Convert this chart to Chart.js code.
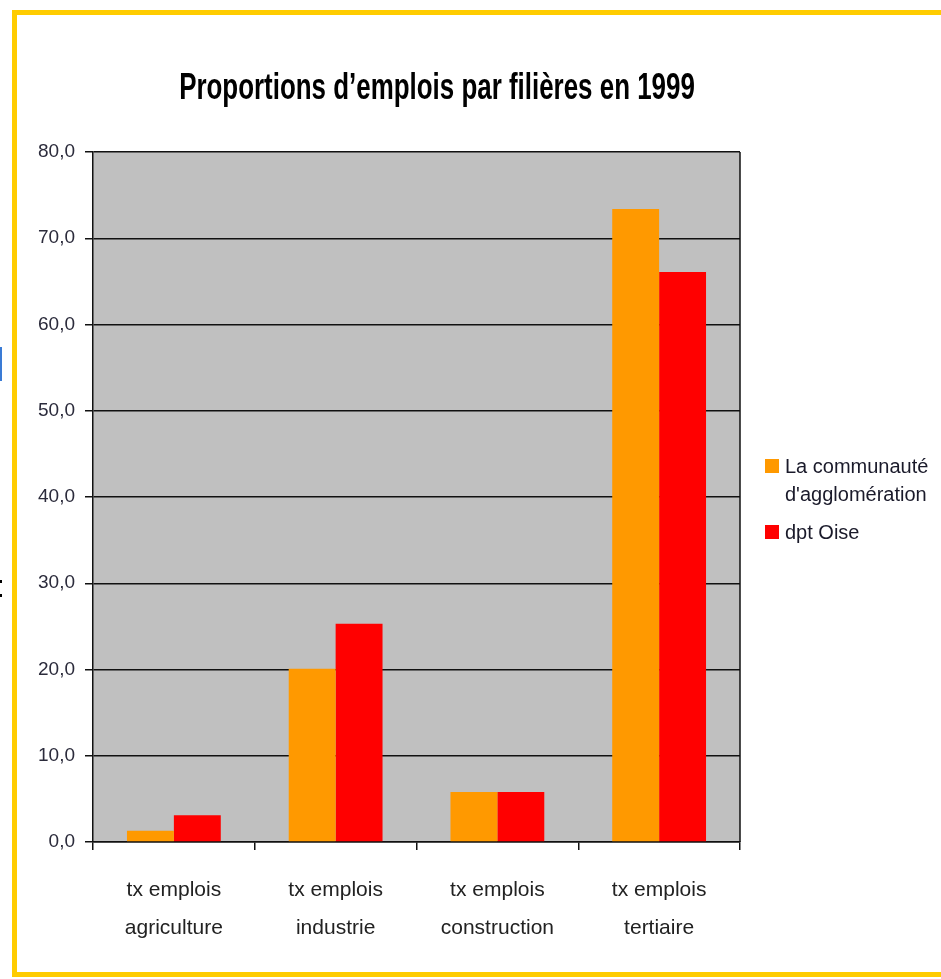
<!DOCTYPE html>
<html>
<head>
<meta charset="utf-8">
<script src="https://cdn.jsdelivr.net/npm/chart.js@4.4.1/dist/chart.umd.min.js"></script>
<style>
  body { margin: 0; background: #fff; overflow: hidden; }
  #wrap { position: relative; width: 941px; height: 979px; }
  #frame { position: absolute; left: 12px; top: 10px; right: -10px; bottom: 2px; border: 5px solid #ffcc00; }
  #title { position: absolute; left: 0; width: 874px; top: 66px; text-align: center;
    font: bold 36px 'Liberation Sans', Arial, sans-serif; color: #000; transform: scaleX(0.72); transform-origin: 437px 0; white-space: nowrap; }
  #legend { position: absolute; left: 765px; top: 452px; font: 20px 'Liberation Sans', Arial, sans-serif; color: #1a1a2a; }
  .item { position: relative; padding-left: 20px; line-height: 28px; }
  .box { position: absolute; left: 0; top: 7px; width: 14px; height: 14px; }
  .edge1 { position: absolute; left: 0; top: 347px; width: 2px; height: 34px; background: #3a7bd5; }
  .edge2 { position: absolute; left: 0; top: 580px; width: 2px; height: 17px; border-top: 3px solid #000; border-bottom: 3px solid #000; box-sizing: border-box; }
</style>
</head>
<body>
<div id="wrap">
  <div class="edge1"></div>
  <div class="edge2"></div>
  <div id="frame"></div>
  <canvas id="myChart" width="941" height="979"></canvas>
  <div id="title">Proportions d’emplois par filières en 1999</div>
  <div id="legend"></div>
</div>
<script>
// data
var categories = [
    ['tx emplois', 'agriculture'],
    ['tx emplois', 'industrie'],
    ['tx emplois', 'construction'],
    ['tx emplois', 'tertiaire']
];
var seriesNames = ['La communauté d\'agglomération', 'dpt Oise'];
var legendLines = [['La communauté', 'd\'agglomération'], ['dpt Oise']];
var seriesColors = ['#ff9900', '#ff0000'];
var aggloValues = [1.3, 20.1, 5.8, 73.4];
var oiseValues = [3.1, 25.3, 5.8, 66.1];
var yMin = 0, yMax = 80, yStep = 10;

// gray plot area + right border
var plotBg = {
    id: 'plotBg',
    beforeDraw: function (chart) {
        var a = chart.chartArea, ctx = chart.ctx;
        ctx.save();
        ctx.fillStyle = '#c0c0c0';
        ctx.fillRect(a.left, a.top, a.right - a.left, a.bottom - a.top);
        ctx.restore();
    },
    afterDraw: function (chart) {
        var a = chart.chartArea, ctx = chart.ctx;
        ctx.save();
        ctx.strokeStyle = '#111';
        ctx.lineWidth = 1.5;
        ctx.beginPath();
        ctx.moveTo(a.right, a.top);
        ctx.lineTo(a.right, a.bottom);
        ctx.stroke();
        ctx.restore();
    }
};

var ctx = document.getElementById('myChart').getContext('2d');
var myBarChart = new Chart(ctx, {
    type: 'bar',
    data: {
        labels: categories,
        datasets: [
            {
                label: seriesNames[0],
                data: aggloValues,
                backgroundColor: seriesColors[0],
                borderWidth: 0
            }, {
                label: seriesNames[1],
                data: oiseValues,
                backgroundColor: seriesColors[1],
                borderWidth: 0
            }]
    },
    options: {
        responsive: false,
        animation: false,
        layout: { padding: { top: 152, right: 201, left: 0, bottom: 0 } },
        datasets: { bar: { categoryPercentage: 0.58, barPercentage: 1.0 } },
        plugins: {
            legend: { display: false },
            title: { display: false },
            tooltip: { enabled: false }
        },
        scales: {
            x: {
                afterFit: function (scale) { scale.height = 137; },
                grid: { drawOnChartArea: false, drawTicks: true, tickLength: 8, color: '#111', lineWidth: 1.5, offset: true },
                border: { display: true, color: '#111', width: 1.5 },
                ticks: {
                    color: '#222',
                    padding: 21,
                    maxRotation: 0,
                    font: { family: "'Liberation Sans', Arial, sans-serif", size: 21, lineHeight: 1.81 }
                }
            },
            y: {
                min: yMin,
                max: yMax,
                afterFit: function (scale) { scale.width = 93; },
                grid: { color: '#111', lineWidth: 1.5, drawTicks: true, tickLength: 8 },
                border: { display: true, color: '#111', width: 1.5 },
                ticks: {
                    stepSize: yStep,
                    color: '#2b2b3b',
                    padding: 10,
                    font: { family: "'Liberation Sans', Arial, sans-serif", size: 19 },
                    callback: function (value) { return value.toFixed(1).replace('.', ','); }
                }
            }
        }
    },
    plugins: [plotBg]
});

// legend built from the series
var legendDiv = document.getElementById('legend');
seriesNames.forEach(function (name, i) {
    var item = document.createElement('div');
    item.className = 'item';
    if (i > 0) item.style.marginTop = '10px';
    var box = document.createElement('span');
    box.className = 'box';
    box.style.background = seriesColors[i];
    item.appendChild(box);
    legendLines[i].forEach(function (line, j) {
        if (j > 0) item.appendChild(document.createElement('br'));
        item.appendChild(document.createTextNode(line));
    });
    legendDiv.appendChild(item);
});
</script>
</body>
</html>
